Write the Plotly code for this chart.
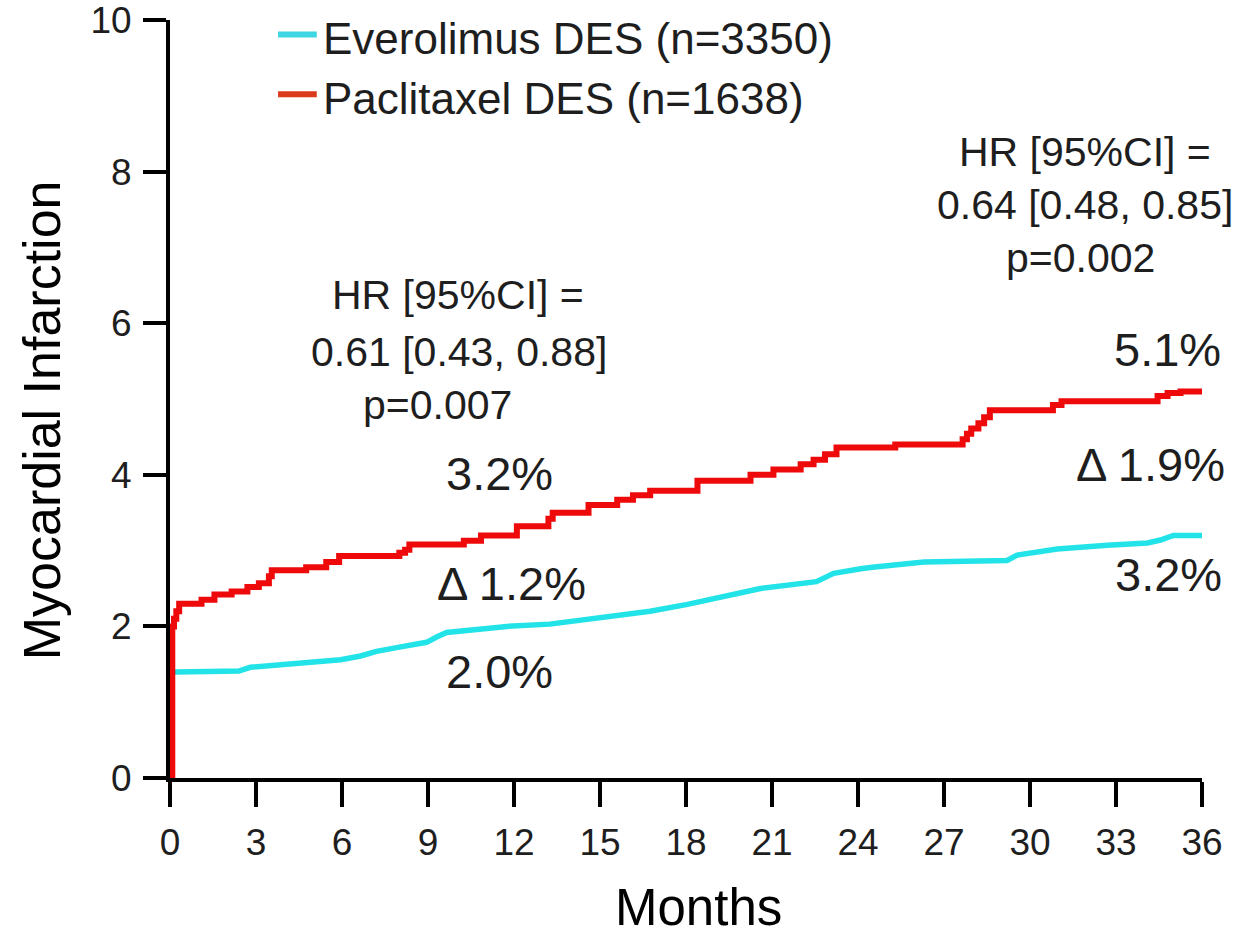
import plotly.graph_objects as go

# Kaplan-Meier style cumulative incidence of myocardial infarction (%)
months_evero = [0, 0.02, 0.2, 2.4, 2.8, 4.05, 5.0, 5.95, 6.65, 7.2, 8.05, 8.95, 9.3, 9.65, 10.7,
                11.75, 13.25, 15.35, 16.75, 18.05, 19.65, 20.6, 22.55, 23.15, 24.1, 24.5, 26.3,
                29.2, 29.55, 30.95, 32.7, 34.1, 34.55, 35.0, 36.0]
mi_evero = [0, 1.39, 1.4, 1.41, 1.46, 1.5, 1.52, 1.56, 1.61, 1.67, 1.73, 1.79, 1.86, 1.92, 1.96,
            2.0, 2.03, 2.13, 2.2, 2.29, 2.42, 2.5, 2.59, 2.7, 2.76, 2.78, 2.85,
            2.87, 2.94, 3.02, 3.07, 3.1, 3.14, 3.2, 3.2]

months_pacli = [0, 0.08, 0.14, 0.22, 0.32, 1.1, 1.55, 2.15, 2.7, 3.1, 3.45, 3.55, 4.75, 5.45, 5.9,
                8.0, 8.2, 8.35, 10.25, 10.85, 12.1, 13.2, 13.35, 14.6, 15.6, 16.15, 16.75, 18.4,
                20.25, 21.05, 22.0, 22.45, 22.85, 23.25, 25.3, 27.65, 27.8, 27.95, 28.2, 28.4,
                28.6, 30.8, 31.1, 34.45, 34.8, 35.25, 36.0]
mi_pacli = [0, 2.0, 2.1, 2.2, 2.3, 2.35, 2.42, 2.46, 2.52, 2.57, 2.66, 2.74, 2.78, 2.85, 2.93,
            2.97, 3.01, 3.08, 3.13, 3.2, 3.32, 3.42, 3.5, 3.6, 3.67, 3.73, 3.79, 3.92,
            4.0, 4.07, 4.14, 4.2, 4.27, 4.36, 4.4, 4.47, 4.54, 4.61, 4.68, 4.76,
            4.85, 4.92, 4.97, 5.04, 5.08, 5.1, 5.1]

x_ticks = list(range(0, 37, 3))
y_ticks = [0, 2, 4, 6, 8, 10]

series_names = ["Everolimus DES (n=3350)", "Paclitaxel DES (n=1638)"]
line_colors = ["#22E3E8", "#EE0A0A"]
legend_colors = ["#3DD6E2", "#DC3A1C"]

FONT = "Liberation Sans, Arial, Helvetica, sans-serif"
TXT = "#1e1e1e"

fig = go.Figure()
fig.add_trace(go.Scatter(x=months_evero, y=mi_evero, mode="lines",
                         line=dict(color=line_colors[0], width=5.5),
                         name=series_names[0], showlegend=False))
fig.add_trace(go.Scatter(x=months_pacli, y=mi_pacli, mode="lines",
                         line=dict(color=line_colors[1], width=6, shape="hv"),
                         name=series_names[1], showlegend=False))

annotations = []
shapes = []

# legend drawn as short dashes plus labels
legend_rows_y = [9.76, 8.97]
for name, col, yy in zip(series_names, legend_colors, legend_rows_y):
    shapes.append(dict(type="line", xref="x", yref="y", x0=3.77, x1=5.12, y0=yy + 0.05, y1=yy + 0.05,
                       line=dict(color=col, width=6), layer="above"))
    annotations.append(dict(x=5.25, y=yy, xref="x", yref="y", text=name, showarrow=False,
                            xanchor="left", yanchor="middle",
                            font=dict(family=FONT, size=44, color=TXT)))

# hazard ratio blocks
hr_blocks = [
    (["HR [95%CI] =", "0.61 [0.43, 0.88]", "p=0.007"], [10.05, 10.08, 9.32], [6.37, 5.62, 4.92]),
    (["HR [95%CI] =", "0.64 [0.48, 0.85]", "p=0.002"], [31.93, 31.93, 31.75], [8.26, 7.56, 6.86]),
]
for lines, xs, ys in hr_blocks:
    for t, xx, yy in zip(lines, xs, ys):
        annotations.append(dict(x=xx, y=yy, xref="x", yref="y", text=t, showarrow=False,
                                xanchor="center", yanchor="middle",
                                font=dict(family=FONT, size=41, color=TXT)))

# event-rate labels
rate_labels = [
    ("3.2%", 11.51, 4.02),
    ("\u0394 1.2%", 11.9, 2.57),
    ("2.0%", 11.51, 1.40),
    ("5.1%", 34.79, 5.65),
    ("\u0394 1.9%", 34.2, 4.13),
    ("3.2%", 34.82, 2.68),
]
for t, xx, yy in rate_labels:
    annotations.append(dict(x=xx, y=yy, xref="x", yref="y", text=t, showarrow=False,
                            xanchor="center", yanchor="middle",
                            font=dict(family=FONT, size=47, color=TXT)))

# axis titles
annotations.append(dict(x=0.512, y=-0.171, xref="paper", yref="paper", text="Months",
                        showarrow=False, xanchor="center", yanchor="middle",
                        font=dict(family=FONT, size=51, color="#000000")))
annotations.append(dict(x=-0.124, y=0.472, xref="paper", yref="paper", text="Myocardial Infarction",
                        showarrow=False, textangle=-90, xanchor="center", yanchor="middle",
                        font=dict(family=FONT, size=52, color="#000000")))

fig.update_layout(
    width=1237, height=938,
    margin=dict(l=170, r=35, t=20, b=160, autoexpand=False),
    paper_bgcolor="white", plot_bgcolor="white",
    showlegend=False,
    annotations=annotations,
    shapes=shapes,
    font=dict(family=FONT, color=TXT),
)
fig.update_xaxes(range=[0, 36], tickvals=x_ticks, ticktext=[str(v) for v in x_ticks],
                 showgrid=False, zeroline=False, showline=True, linecolor="black", linewidth=4,
                 ticks="outside", ticklen=25, tickwidth=4, tickcolor="black", automargin=False,
                 ticklabelstandoff=4, ticklabeloverflow="allow",
                 tickfont=dict(family=FONT, size=37, color=TXT), layer="below traces")
fig.update_yaxes(range=[0, 10], tickvals=y_ticks, ticktext=[str(v) for v in y_ticks],
                 showgrid=False, zeroline=False, showline=True, linecolor="black", linewidth=4,
                 ticks="outside", ticklen=23, tickwidth=4, tickcolor="black", automargin=False,
                 ticklabelstandoff=4, ticklabeloverflow="allow",
                 tickfont=dict(family=FONT, size=37, color=TXT), layer="below traces")

fig.write_html("out.html")
